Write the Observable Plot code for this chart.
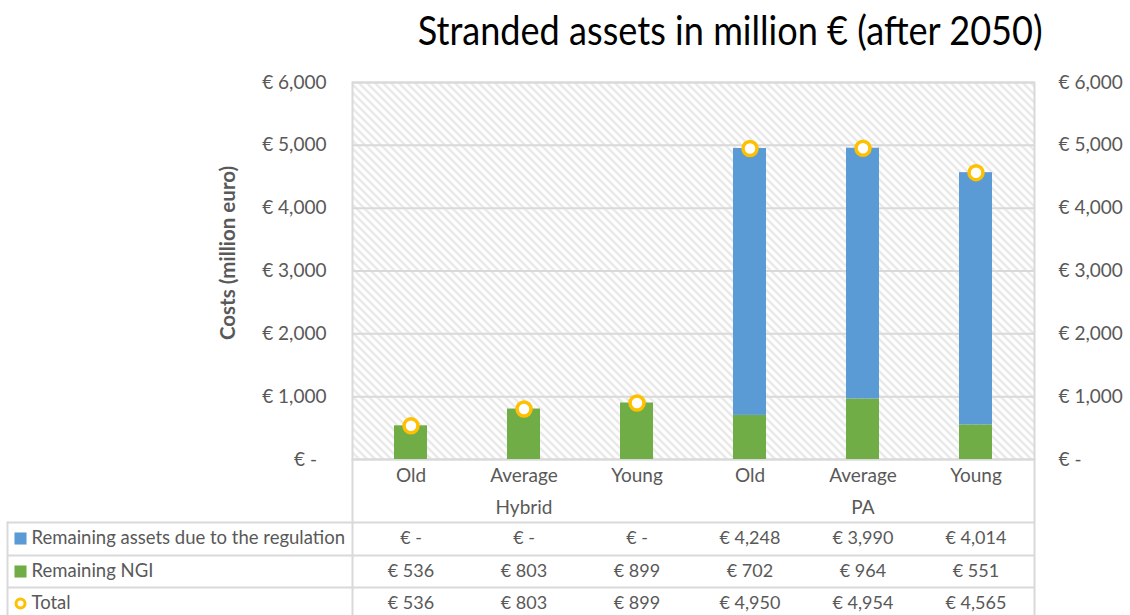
<!DOCTYPE html>
<html>
<head>
<meta charset="utf-8">
<script src="https://cdn.jsdelivr.net/npm/d3@7"></script>
<script src="https://cdn.jsdelivr.net/npm/@observablehq/plot@0.6"></script>
<style>
  body { margin: 0; background: #fff; }
  #wrap { width: 1130px; height: 615px; position: relative; overflow: hidden; }
  #title { height: 60px; line-height: 60px; width: 1130px; box-sizing: border-box; padding-left: 330px;
           text-align: center; font-family: Lato, sans-serif; font-size: 40px; color: #000; white-space: nowrap; }
  #title span { display: inline-block; transform-origin: center; }
</style>
</head>
<body>
<div id="wrap">
  <div id="title"><span id="titleText">Stranded assets in million € (after 2050)</span></div>
  <div id="chart"></div>
</div>
<script>
// ---- data ----
const groups = ["Hybrid", "Hybrid", "Hybrid", "PA", "PA", "PA"];
const ages = ["Old", "Average", "Young", "Old", "Average", "Young"];
const regulationAssets = [0, 0, 0, 4248, 3990, 4014];
const remainingNGI = [536, 803, 899, 702, 964, 551];
const totals = [536, 803, 899, 4950, 4954, 4565];
const yTicks = [0, 1000, 2000, 3000, 4000, 5000, 6000];
const seriesNames = ["Remaining assets due to the regulation", "Remaining NGI", "Total"];
const seriesColors = ["#5b9bd5", "#70ad47", "#ffc000"];
const yLabel = "Costs (million euro)";

// ---- derived ----
const keys = groups.map((g, i) => g + "|" + ages[i]);
const stackData = [];
keys.forEach((k, i) => stackData.push({key: k, series: seriesNames[1], value: remainingNGI[i]}));
keys.forEach((k, i) => stackData.push({key: k, series: seriesNames[0], value: regulationAssets[i]}));
const totalData = keys.map((k, i) => ({key: k, value: totals[i]}));
const groupLabels = [...new Set(groups)].map(g => ({key: g + "|Average", label: g}));
const eur = v => v === 0 ? "€ -" : "€ " + d3.format(",")(v);
const eurLeft = v => v === 0 ? "€ -\u2002" : eur(v);
const rows = [regulationAssets, remainingNGI, totals];

const rowDy = [79, 112, 144];
const grey = "#595959";
const lineCol = "#d9d9d9";

const marks = [
  Plot.frame({fill: "url(#hatch)"}),
  Plot.gridY(yTicks, {stroke: lineCol, strokeOpacity: 1, strokeWidth: 2}),
  Plot.frame({stroke: lineCol, strokeWidth: 2}),
  Plot.barY(stackData, {x: "key", y: "value", fill: "series"}),
  Plot.dot(totalData, {x: "key", y: "value", r: 7, stroke: seriesColors[2], strokeWidth: 3.5, fill: "white"}),
  Plot.axisY({anchor: "left", ticks: yTicks, tickFormat: eurLeft, tickSize: 0, tickPadding: 26, fontSize: 19, label: null}),
  Plot.axisY({anchor: "right", ticks: yTicks, tickFormat: eur, tickSize: 0, tickPadding: 24, fontSize: 19, label: null}),
  Plot.axisX({tickSize: 0, tickPadding: 9, fontSize: 19, tickFormat: k => k.split("|")[1], label: null}),
  Plot.text([yLabel], {frameAnchor: "left", dx: -124, dy: -18, rotate: -90, textAnchor: "middle", fontSize: 20.5, fontWeight: "bold", fill: grey}),
  Plot.text(groupLabels, {x: "key", text: "label", frameAnchor: "bottom", dy: 48, lineAnchor: "middle", fontSize: 19, fill: grey}),
  // table borders
  Plot.ruleY([0], {dy: 63, insetLeft: -345, stroke: lineCol, strokeWidth: 2}),
  Plot.ruleY([0], {dy: 96, insetLeft: -345, stroke: lineCol, strokeWidth: 2}),
  Plot.ruleY([0], {dy: 128, insetLeft: -345, stroke: lineCol, strokeWidth: 2}),
  Plot.frame({anchor: "left", insetTop: 377, insetBottom: -160, stroke: lineCol, strokeWidth: 2}),
  Plot.frame({anchor: "right", insetTop: 377, insetBottom: -160, stroke: lineCol, strokeWidth: 2}),
  Plot.frame({anchor: "left", dx: -345, insetTop: 440, insetBottom: -160, stroke: lineCol, strokeWidth: 2})
];
rows.forEach((vals, r) => {
  marks.push(Plot.text(keys, {x: d => d, text: (d, i) => eur(vals[i]), frameAnchor: "bottom", dy: rowDy[r], lineAnchor: "middle", fontSize: 18, fill: grey}));
  marks.push(Plot.text([seriesNames[r]], {frameAnchor: "bottom-left", dx: -321, dy: rowDy[r], textAnchor: "start", lineAnchor: "middle", fontSize: 18.5, fill: grey}));
  if (r < 2) {
    marks.push(Plot.dot([seriesNames[r]], {frameAnchor: "bottom-left", dx: -332, dy: rowDy[r], symbol: "square", r: 6.8, fill: seriesColors[r]}));
  } else {
    marks.push(Plot.dot([seriesNames[r]], {frameAnchor: "bottom-left", dx: -332, dy: rowDy[r], r: 4.5, stroke: seriesColors[r], strokeWidth: 3, fill: "white"}));
  }
});

const chart = Plot.plot({
  width: 1130, height: 555,
  marginTop: 22, marginBottom: 156, marginLeft: 352, marginRight: 96,
  style: {fontFamily: "Lato, sans-serif", color: grey, background: "white", overflow: "visible"},
  x: {domain: keys, paddingInner: 0.71, paddingOuter: 0.355, axis: null},
  y: {domain: [0, 6000], axis: null},
  color: {domain: seriesNames.slice(0, 2), range: seriesColors.slice(0, 2)},
  marks
});

// hatch pattern for the plot area
const svg = d3.select(chart);
const defs = svg.insert("defs", ":first-child");
const pat = defs.append("pattern").attr("id", "hatch").attr("patternUnits", "userSpaceOnUse")
  .attr("width", 8).attr("height", 8);
pat.append("rect").attr("width", 8).attr("height", 8).attr("fill", "white");
pat.append("path").attr("d", "M-2,-2L10,10M-2,6L2,10M6,-2L10,2").attr("stroke", "#e4e4e4").attr("stroke-width", 2);

document.getElementById("chart").appendChild(chart);

// fit title width
const t = document.getElementById("titleText");
const w = t.getBoundingClientRect().width;
t.style.transform = `scaleX(${625 / w})`;
</script>
</body>
</html>
